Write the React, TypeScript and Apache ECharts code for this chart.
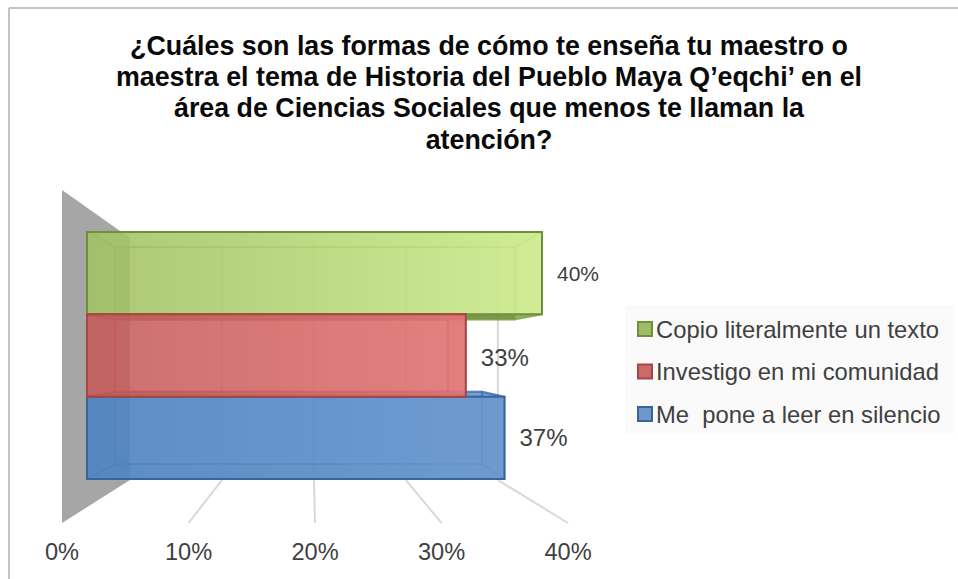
import React, { useEffect, useRef } from "react";
import * as echarts from "echarts";

const titleLines = [
  "¿Cuáles son las formas de cómo te enseña tu maestro o",
  "maestra el tema de Historia del Pueblo Maya Q’eqchi’ en el",
  "área de Ciencias Sociales que menos te llaman la",
  "atención?",
];
const categories = ["Copio literalmente un texto", "Investigo en mi comunidad", "Me  pone a leer en silencio"];
const values = [40, 33.3, 36.7];
const axisTicks = [0, 10, 20, 30, 40];
const drawOrder = [0, 2, 1];

const palette = [
  { left: "rgba(160,192,98,0.84)", right: "rgba(205,236,142,0.90)", back: "rgba(150,190,90,0.22)", side: "rgba(190,225,130,0.30)", top: "rgba(190,225,130,0.30)", bottom: "rgba(95,130,48,0.80)", line: "#6f8f3a", inner: "rgba(124,160,64,0.55)", legend: "#9fbc64" },
  { left: "rgba(196,92,90,0.84)", right: "rgba(226,118,118,0.90)", back: "rgba(190,80,80,0.20)", side: "rgba(190,70,70,0.30)", top: "rgba(170,60,60,0.28)", bottom: "rgba(150,45,45,0.45)", line: "#a84644", inner: "rgba(175,60,60,0.50)", legend: "#c96b69" },
  { left: "rgba(80,132,192,0.90)", right: "rgba(104,150,206,0.94)", back: "rgba(70,120,190,0.20)", side: "rgba(80,130,195,0.30)", top: "rgba(80,130,195,0.70)", bottom: "rgba(80,130,195,0.30)", line: "#386699", inner: "rgba(60,105,170,0.55)", legend: "#6c98cc" },
];
const labelSizes = [21, 24, 24];
const FONT = '"Liberation Sans", Arial, sans-serif';

// vanishing points of the 3D box depth and of the chart floor
const boxDepth = { x: 318, y: 356, k: 0.879 };
const wallDepth = { x: 311, y: 365.6, k: 0.727 };
const project = (p: number[], d: { x: number; y: number; k: number }) => [
  d.x + (p[0] - d.x) * d.k,
  d.y + (p[1] - d.y) * d.k,
];

function renderFrame(_: any, api: any) {
  const v = api.value(0);
  const bottom = api.coord([v, 0]);
  const top = api.coord([v, 1]);
  const backBottom = project(bottom, wallDepth);
  const backTop = project(top, wallDepth);
  const children: any[] = [];
  if (v === 0) {
    children.push({
      type: "polygon",
      shape: { points: [top, backTop, backBottom, bottom] },
      style: { fill: "#a6a6a6", stroke: "none" },
    });
  } else {
    const ls = { stroke: "#d9d9d9", lineWidth: 2, fill: "none" };
    children.push({ type: "line", shape: { x1: bottom[0], y1: bottom[1], x2: backBottom[0], y2: backBottom[1] }, style: ls });
    children.push({ type: "line", shape: { x1: backBottom[0], y1: backBottom[1], x2: backTop[0], y2: backTop[1] }, style: ls });
  }
  return { type: "group", children };
}

function renderBox(idx: number) {
  return (_: any, api: any) => {
    const c = palette[idx];
    const v = api.value(0);
    const cat = api.value(1);
    const band = api.size([0, 1])[1];
    const mid = api.coord([v, cat]);
    const zero = api.coord([0, cat]);
    const x0 = zero[0], x1 = mid[0], y0 = mid[1] - band / 2, y1 = mid[1] + band / 2;
    const tl = [x0, y0], tr = [x1, y0], br = [x1, y1], bl = [x0, y1];
    const [btl, btr, bbr, bbl] = [tl, tr, br, bl].map((p) => project(p, boxDepth));
    const face = (points: number[][], fill: any) => ({
      type: "polygon",
      shape: { points },
      style: { fill, stroke: c.inner, lineWidth: 2, lineJoin: "round" },
    });
    return {
      type: "group",
      children: [
        face([btl, btr, bbr, bbl], c.back),
        face([tl, tr, btr, btl], c.top),
        face([bl, br, bbr, bbl], c.bottom),
        face([tl, bl, bbl, btl], c.side),
        face([tr, br, bbr, btr], c.side),
        {
          type: "rect",
          shape: { x: x0, y: y0, width: x1 - x0, height: y1 - y0 },
          style: {
            fill: new echarts.graphic.LinearGradient(0, 0, 1, 0, [
              { offset: 0, color: c.left },
              { offset: 1, color: c.right },
            ]),
            stroke: c.line,
            lineWidth: 2,
          },
        },
        {
          type: "text",
          x: x1 + 15,
          y: mid[1] + (idx === 1 ? 1.5 : 0),
          style: {
            text: Math.round(v) + "%",
            fontFamily: FONT,
            fontSize: labelSizes[idx],
            fill: "#404040",
            textAlign: "left",
            textVerticalAlign: "middle",
          },
        },
      ],
    };
  };
}

export default function App() {
  const ref = useRef<HTMLDivElement>(null);
  useEffect(() => {
    document.body.style.margin = "0";
    const chart = echarts.init(ref.current!, undefined, { renderer: "svg" });
    chart.setOption({
      animation: false,
      backgroundColor: "#ffffff",
      title: {
        text: titleLines.join("\n"),
        left: 484,
        top: 25,
        textAlign: "center",
        textStyle: { fontFamily: FONT, fontSize: 26.8, fontWeight: "bold", color: "#0a0a0a", lineHeight: 31.3 },
      },
      legend: {
        data: categories,
        orient: "vertical",
        left: 625,
        top: 305,
        padding: [11, 13, 7, 12],
        backgroundColor: "#fafafa",
        icon: "rect",
        itemWidth: 14,
        itemHeight: 14,
        itemGap: 16.5,
        selectedMode: false,
        textStyle: { fontFamily: FONT, fontSize: 23.8, color: "#404040", padding: [0, 0, 0, -1], lineHeight: 26 },
      },
      grid: [
        { left: 62, width: 506, top: 190, height: 333 },
        { left: 87, width: 455, top: 232, height: 247 },
      ],
      xAxis: [
        {
          gridIndex: 0,
          type: "value",
          min: 0,
          max: 40,
          interval: 10,
          axisLine: { show: false },
          axisTick: { show: false },
          splitLine: { show: false },
          axisLabel: { formatter: "{value}%", fontFamily: FONT, fontSize: 23.6, color: "#404040", margin: 17 },
        },
        { gridIndex: 1, type: "value", min: 0, max: 40, show: false },
      ],
      yAxis: [
        { gridIndex: 0, type: "value", min: 0, max: 1, show: false },
        { gridIndex: 1, type: "category", data: categories, inverse: true, show: false },
      ],
      series: [
        {
          type: "custom",
          name: "frame",
          xAxisIndex: 0,
          yAxisIndex: 0,
          silent: true,
          renderItem: renderFrame,
          encode: { x: 0 },
          data: axisTicks.map((t) => [t]),
        },
        ...drawOrder.map((i) => ({
          type: "custom",
          name: categories[i],
          xAxisIndex: 1,
          yAxisIndex: 1,
          silent: true,
          renderItem: renderBox(i),
          encode: { x: 0, y: 1 },
          itemStyle: { color: palette[i].legend, borderColor: palette[i].line, borderWidth: 2 },
          data: [[values[i], i]],
        })),
      ],
      graphic: [
        { type: "line", shape: { x1: 9, y1: 8, x2: 958, y2: 8 }, style: { stroke: "#c4c4c4", lineWidth: 2 } },
        { type: "line", shape: { x1: 9, y1: 8, x2: 9, y2: 579 }, style: { stroke: "#c4c4c4", lineWidth: 2 } },
      ],
    });
    return () => chart.dispose();
  }, []);
  return <div ref={ref} style={{ position: "absolute", left: 0, top: 0, width: 958, height: 579 }} />;
}
